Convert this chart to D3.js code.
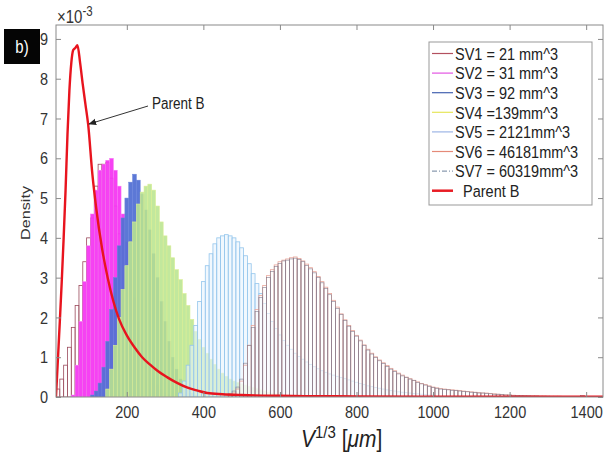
<!DOCTYPE html>
<html>
<head>
<meta charset="utf-8">
<script src="https://cdn.jsdelivr.net/npm/d3@7"></script>
<style>
  body { margin: 0; background: #fff; }
  svg { display: block; }
  text { font-family: Arial, Helvetica, sans-serif; }
</style>
</head>
<body>
<div id="chart"></div>
<script>
// histogram bins are 10 um wide, densities in units of 1e-3
const binWidth = 10;

const sv1Start = 15;
const sv1Density = [0.2, 0.45, 0.8, 1.25, 1.75, 2.3, 2.8, 3.4, 4.0, 4.5, 5.3, 5.85, 5.85, 5.9, 5.5, 4.8,
  4.1, 3.4, 2.7, 2.0, 1.4, 0.95, 0.6, 0.35, 0.2, 0.1];

const sv2Start = 55;
const sv2Density = [0.05, 0.8, 1.9, 2.9, 3.8, 4.6, 5.2, 5.7, 5.85, 5.95, 6.0, 5.7, 5.3, 4.6, 3.9, 3.2,
  2.5, 1.9, 1.4, 1.0, 0.7, 0.45, 0.3, 0.18, 0.1, 0.05];

const sv3Start = 105;
const sv3Density = [0.05, 0.15, 0.35, 0.75, 1.4, 2.2, 3.0, 3.8, 4.5, 5.0, 5.4, 5.6, 5.45, 5.1, 4.7, 4.2,
  3.6, 3.0, 2.4, 1.9, 1.4, 1.0, 0.7, 0.45, 0.3, 0.18, 0.1, 0.05];

const sv4Start = 145;
const sv4Density = [0.2, 0.7, 1.3, 2.0, 2.7, 3.3, 3.9, 4.4, 4.85, 5.15, 5.3, 5.35, 5.2, 4.8, 4.4, 4.05,
  3.8, 3.5, 3.2, 2.95, 2.6, 2.3, 1.95, 1.65, 1.45, 1.25, 1.1, 0.95, 0.82, 0.7, 0.6, 0.52, 0.45, 0.4,
  0.36, 0.33, 0.3, 0.27, 0.24, 0.21, 0.18, 0.15, 0.12, 0.1, 0.08, 0.06];

const sv5Start = 335;
const sv5Density = [0.1, 0.4, 0.8, 1.3, 1.8, 2.4, 2.9, 3.3, 3.6, 3.85, 4.0, 4.05, 4.08, 4.05, 4.0, 3.9,
  3.75, 3.55, 3.35, 3.1, 2.85, 2.6, 2.35, 2.1, 1.9, 1.72, 1.56, 1.42, 1.3, 1.2, 1.1, 1.02, 0.95, 0.88,
  0.82, 0.76, 0.71, 0.66, 0.62, 0.58, 0.55, 0.52, 0.49, 0.46, 0.43, 0.4, 0.37, 0.34, 0.31, 0.28, 0.26,
  0.24, 0.22, 0.2, 0.18, 0.16, 0.15, 0.13, 0.12, 0.11, 0.1, 0.09, 0.08, 0.07, 0.06, 0.05, 0.05];

const sv6Start = 465;
const sv6Density = [0.05, 0.1, 0.2, 0.4, 0.8, 1.3, 1.8, 2.2, 2.55, 2.8, 3.05, 3.2, 3.32, 3.4, 3.44, 3.47,
  3.5, 3.52, 3.48, 3.42, 3.34, 3.25, 3.15, 3.03, 2.9, 2.76, 2.6, 2.43, 2.26, 2.09, 1.94, 1.8, 1.67, 1.55,
  1.43, 1.31, 1.2, 1.1, 1.01, 0.93, 0.86, 0.79, 0.72, 0.66, 0.6, 0.55, 0.5, 0.46, 0.42, 0.38, 0.34, 0.31,
  0.28, 0.25, 0.23, 0.21, 0.2, 0.19, 0.18, 0.17, 0.16, 0.15, 0.14, 0.13, 0.12, 0.11, 0.1, 0.1, 0.09, 0.08,
  0.07, 0.06, 0.055, 0.05, 0.045, 0.04, 0.04, 0.035, 0.03, 0.03, 0.03, 0.025, 0.025, 0.02, 0.02, 0.02,
  0.02, 0.015, 0.015, 0.015, 0.01, 0.01, 0.03, 0.01];

const sv7Start = 465;
const sv7Density = [0.08, 0.15, 0.25, 0.45, 0.85, 1.3, 1.75, 2.15, 2.5, 2.75, 3.0, 3.15, 3.28, 3.36, 3.42,
  3.44, 3.47, 3.49, 3.46, 3.4, 3.31, 3.22, 3.12, 3.0, 2.87, 2.73, 2.57, 2.4, 2.23, 2.07, 1.92, 1.78, 1.65,
  1.53, 1.41, 1.29, 1.18, 1.08, 0.99, 0.91, 0.84, 0.77, 0.7, 0.64, 0.58, 0.53, 0.49, 0.45, 0.41, 0.37,
  0.33, 0.3, 0.27, 0.24, 0.22, 0.2, 0.19, 0.18, 0.17, 0.16, 0.15, 0.14, 0.13, 0.12, 0.11, 0.1, 0.1, 0.09,
  0.08, 0.07, 0.07, 0.06, 0.05, 0.05, 0.04, 0.04, 0.035, 0.03, 0.03, 0.025, 0.025, 0.02, 0.02, 0.02,
  0.015, 0.015, 0.015, 0.01, 0.01, 0.01, 0.01, 0.01, 0.04, 0.01];

// fitted parent curve
const parentX = [15, 20, 25, 30, 35, 40, 45, 50, 55, 60, 66, 71, 78, 85, 92, 99, 110, 120, 135, 150, 165,
  180, 200, 220, 240, 260, 280, 305, 330, 357, 385, 410, 450, 500, 600, 700, 800, 1000, 1200, 1444];
const parentY = [0, 0.95, 1.9, 2.9, 4.0, 5.2, 6.6, 7.7, 8.4, 8.72, 8.78, 8.84, 8.4, 7.85, 7.35, 6.85, 5.6,
  4.75, 3.75, 3.0, 2.4, 1.95, 1.55, 1.25, 1.0, 0.82, 0.66, 0.5, 0.36, 0.24, 0.16, 0.1, 0.07, 0.05, 0.03,
  0.02, 0.015, 0.01, 0.008, 0.005];

const legendLabels = ["SV1 = 21 mm^3", "SV2 = 31 mm^3", "SV3 = 92 mm^3", "SV4 =139mm^3",
  "SV5 = 2121mm^3", "SV6 = 46181mm^3", "SV7 = 60319mm^3", "  Parent B"];

const xTicks = [200, 400, 600, 800, 1000, 1200, 1400];
const yTicks = [0, 1, 2, 3, 4, 5, 6, 7, 8, 9];

const width = 605, height = 454;
const stretch = 1.2; // the picture is taller than it is wide

const x = d3.scaleLinear([15, 1444], [56, 603]);
const y = d3.scaleLinear([0, 9.35], [397, 25]);

const svg = d3.select("#chart").append("svg")
    .attr("width", width)
    .attr("height", height);

svg.append("clipPath")
    .attr("id", "plot")
  .append("rect")
    .attr("x", x.range()[0])
    .attr("y", y.range()[1])
    .attr("width", x.range()[1] - x.range()[0])
    .attr("height", y.range()[0] - y.range()[1]);

const series = [
  { start: sv1Start, values: sv1Density, fill: "#ffffff", fillOpacity: 0.5, stroke: "#9b4a5c", sw: 0.8 },
  { start: sv2Start, values: sv2Density, fill: "#f538f2", fillOpacity: 0.95, stroke: "#f77ef5", sw: 0.5 },
  { start: sv3Start, values: sv3Density, fill: "#5371d4", fillOpacity: 0.95, stroke: "#6a84dc", sw: 0.5 },
  { start: sv4Start, values: sv4Density, fill: "#b9e58f", fillOpacity: 0.88, stroke: "#dbee96", sw: 0.6 },
  { start: sv5Start, values: sv5Density, fill: "#e8f4fd", fillOpacity: 0.6, stroke: "#93c5ec", sw: 0.8 },
  { start: sv6Start, values: sv6Density, fill: "#ffffff", fillOpacity: 0.6, stroke: "#eaa69a", sw: 0.8 },
  { start: sv7Start, values: sv7Density, fill: "none", fillOpacity: 1, stroke: "#857d8e", sw: 0.6 }
];

const plot = svg.append("g").attr("clip-path", "url(#plot)");

series.forEach(s => {
  plot.append("g")
      .attr("fill", s.fill)
      .attr("fill-opacity", s.fillOpacity)
      .attr("stroke", s.stroke)
      .attr("stroke-width", s.sw)
    .selectAll("rect")
    .data(s.values.map((v, i) => ({ x0: s.start + i * binWidth, v })))
    .join("rect")
      .attr("x", d => x(d.x0))
      .attr("y", d => y(d.v))
      .attr("width", d => x(d.x0 + binWidth) - x(d.x0))
      .attr("height", d => y(0) - y(d.v));
});

const line = d3.line()
    .x(d => x(d[0]))
    .y(d => y(d[1]))
    .curve(d3.curveMonotoneX);

plot.append("path")
    .datum(parentX.map((v, i) => [v, parentY[i]]))
    .attr("fill", "none")
    .attr("stroke", "#e8141e")
    .attr("stroke-width", 2.4)
    .attr("d", line);

// axes, ticks pointing inwards on all four sides
function styleAxis(g) {
  g.select(".domain").remove();
  g.selectAll(".tick line").attr("stroke", "#8a8a8a");
  g.selectAll(".tick text")
      .attr("fill", "#333")
      .attr("font-size", 14.5)
      .attr("font-family", "Arial, Helvetica, sans-serif")
      .attr("transform", `scale(1,${stretch})`);
}

svg.append("g")
    .attr("transform", `translate(0,${y(0)})`)
    .call(d3.axisBottom(x).tickValues(xTicks).tickFormat(d3.format("d"))
      .tickSizeInner(-5).tickSizeOuter(0).tickPadding(7.5))
    .call(styleAxis);

svg.append("g")
    .attr("transform", `translate(0,${y.range()[1]})`)
    .call(d3.axisTop(x).tickValues(xTicks).tickSizeInner(-5).tickSizeOuter(0).tickFormat(""))
    .call(styleAxis);

svg.append("g")
    .attr("transform", `translate(${x.range()[0]},0)`)
    .call(d3.axisLeft(y).tickValues(yTicks).tickSizeInner(-5).tickSizeOuter(0).tickPadding(8))
    .call(styleAxis);

svg.append("g")
    .attr("transform", `translate(${x.range()[1]},0)`)
    .call(d3.axisRight(y).tickValues(yTicks).tickSizeInner(-5).tickSizeOuter(0).tickFormat(""))
    .call(styleAxis);

svg.append("rect")
    .attr("x", x.range()[0])
    .attr("y", y.range()[1])
    .attr("width", x.range()[1] - x.range()[0])
    .attr("height", y.range()[0] - y.range()[1])
    .attr("fill", "none")
    .attr("stroke", "#8a8a8a")
    .attr("stroke-width", 1);

// exponent label
const expo = svg.append("text")
    .attr("transform", `translate(57,23) scale(1,${stretch})`)
    .attr("fill", "#333")
    .attr("font-size", 15);
expo.append("tspan").text("\u00d710");
expo.append("tspan").attr("dy", -6).attr("font-size", 11.5).text("-3");

// y label
svg.append("text")
    .attr("transform", `translate(30,213) rotate(-90) scale(${stretch},1)`)
    .attr("text-anchor", "middle")
    .attr("fill", "#333")
    .attr("font-size", 13.5)
    .text("Density");

// x label
const xl = svg.append("text")
    .attr("transform", `translate(301,447) scale(1,1.15)`)
    .attr("fill", "#222")
    .attr("font-family", "DejaVu Serif, serif")
    .attr("font-size", 21);
xl.append("tspan").attr("font-style", "italic").text("V");
xl.append("tspan").attr("dy", -8).attr("font-size", 15).text("1/3");
xl.append("tspan").attr("dy", 8).text(" [");
xl.append("tspan").attr("font-style", "italic").text("\u03bcm");
xl.append("tspan").text("]");

// panel tag
svg.append("rect")
    .attr("x", 4).attr("y", 29)
    .attr("width", 36).attr("height", 35)
    .attr("fill", "#050505");
svg.append("text")
    .attr("transform", `translate(22,53) scale(1,${stretch})`)
    .attr("text-anchor", "middle")
    .attr("fill", "#fff")
    .attr("font-size", 15)
    .text("b)");

// annotation arrow
svg.append("defs").append("marker")
    .attr("id", "head")
    .attr("viewBox", "0 0 10 10")
    .attr("refX", 9).attr("refY", 5)
    .attr("markerWidth", 8).attr("markerHeight", 8)
    .attr("orient", "auto")
  .append("path")
    .attr("d", "M0,1L10,5L0,9Z")
    .attr("fill", "#222");

svg.append("line")
    .attr("x1", 148).attr("y1", 106)
    .attr("x2", 89).attr("y2", 124)
    .attr("stroke", "#333")
    .attr("stroke-width", 1)
    .attr("marker-end", "url(#head)");

svg.append("text")
    .attr("transform", `translate(152,109) scale(1,${stretch})`)
    .attr("fill", "#222")
    .attr("font-size", 13.5)
    .text("Parent B");

// legend
const legendStyles = [
  { color: "#b3505f", sw: 1.2, dash: null },
  { color: "#e255e2", sw: 1.2, dash: null },
  { color: "#4563b0", sw: 1.2, dash: null },
  { color: "#e6e65a", sw: 1.2, dash: null },
  { color: "#9db5e5", sw: 1.2, dash: null },
  { color: "#e58a78", sw: 1.2, dash: null },
  { color: "#8b9bb0", sw: 1.2, dash: "5,2,1,2" },
  { color: "#e81c24", sw: 2.5, dash: null }
];

const legend = svg.append("g");
legend.append("rect")
    .attr("x", 429).attr("y", 42)
    .attr("width", 163).attr("height", 163)
    .attr("fill", "#fff")
    .attr("stroke", "#999")
    .attr("stroke-width", 1);

const rows = legend.selectAll("g.row")
    .data(legendLabels)
    .join("g")
    .attr("class", "row")
    .attr("transform", (d, i) => `translate(0,${53.5 + i * 19.6})`);

rows.append("line")
    .attr("x1", 432).attr("x2", 453)
    .attr("stroke", (d, i) => legendStyles[i].color)
    .attr("stroke-width", (d, i) => legendStyles[i].sw)
    .attr("stroke-dasharray", (d, i) => legendStyles[i].dash);

rows.append("text")
    .attr("transform", `translate(455,6.2) scale(1,${stretch})`)
    .attr("fill", "#222")
    .attr("font-size", 14.5)
    .style("white-space", "pre")
    .text(d => d);
</script>
</body>
</html>
